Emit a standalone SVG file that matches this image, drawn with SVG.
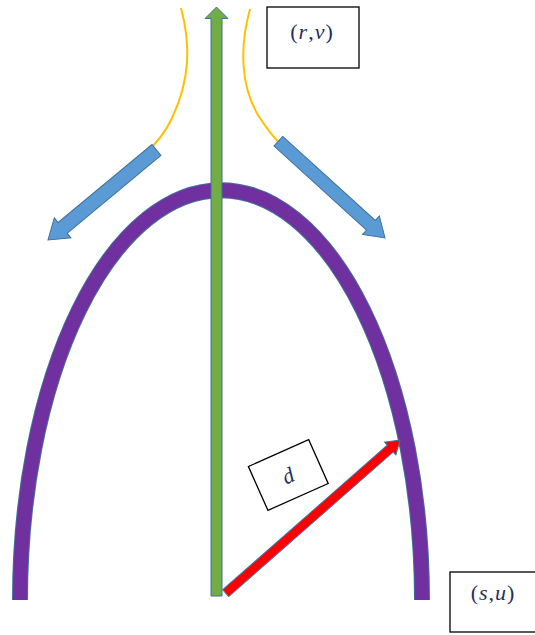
<svg xmlns="http://www.w3.org/2000/svg" width="535" height="635" viewBox="0 0 535 635">
  <style>
    .edge { stroke: #41719C; stroke-width: 1; stroke-linejoin: miter; }
    .blue { fill: #5B9BD5; }
    .green { fill: #70AD47; }
    .red { fill: #FF0000; }
    .flow { fill: none; stroke: #FFC000; stroke-width: 2; }
    .box { fill: #FFFFFF; stroke: #000000; stroke-width: 1.3; }
    .lbl { font-family: "Liberation Serif", "DejaVu Serif", serif; font-size: 22px; fill: #1F2F5A; letter-spacing: 1px; }
    .it { font-style: italic; }
  </style>

  <rect width="535" height="635" fill="#FFFFFF"/>

  <!-- outflow streamlines -->
  <g id="streamlines">
    <path class="flow" d="M181,8 C191,45 190,80 172,118 C160,145 130,170 100,188"/>
    <path class="flow" d="M250,9 C240,45 240,85 258,115 C266,128 274,138 284,148"/>
  </g>

  <!-- arch -->
  <g id="arch">
    <path d="M20,600 A201,410 0 0 1 422,600" fill="none" stroke="#41719C" stroke-width="16"/>
    <path d="M20,600 A201,410 0 0 1 422,600" fill="none" stroke="#7030A0" stroke-width="14"/>
  </g>

  <!-- arrows -->
  <g id="connectors">
    <!-- vertical axis -->
    <polygon class="green edge" transform="translate(216.5,7) rotate(-90)"
      points="-589,-5.5 -11.5,-5.5 -11.5,-11.5 0,0 -11.5,11.5 -11.5,5.5 -589,5.5"/>
    <!-- left deflection -->
    <polygon class="blue edge" transform="translate(48,240) rotate(140.3)"
      points="-141,-7 -19,-7 -19,-13 0,0 -19,13 -19,7 -141,7"/>
    <!-- right deflection -->
    <polygon class="blue edge" transform="translate(385,238) rotate(42.2)"
      points="-144,-6.5 -19,-6.5 -19,-12.5 0,0 -19,12.5 -19,6.5 -144,6.5"/>
    <!-- distance d -->
    <polygon class="red edge" transform="translate(400,440) rotate(-41.3)"
      points="-232,-4.5 -13,-4.5 -13,-8.5 0,0 -13,8.5 -13,4.5 -232,4.5"/>
  </g>

  <!-- labels -->
  <g id="label-rv">
    <rect class="box" x="267" y="7" width="92" height="61"/>
    <text class="lbl" x="312" y="39" text-anchor="middle">(<tspan class="it">r</tspan>,<tspan class="it">v</tspan>)</text>
  </g>

  <g id="label-su">
    <rect class="box" x="450" y="572" width="90" height="60"/>
    <text class="lbl" x="493" y="600" text-anchor="middle">(<tspan class="it">s</tspan>,<tspan class="it">u</tspan>)</text>
  </g>

  <g id="label-d" transform="translate(288.3,475) rotate(-24)">
    <rect class="box" x="-33" y="-24" width="66" height="48"/>
    <text class="lbl it" x="0" y="8" text-anchor="middle">d</text>
  </g>
</svg>
